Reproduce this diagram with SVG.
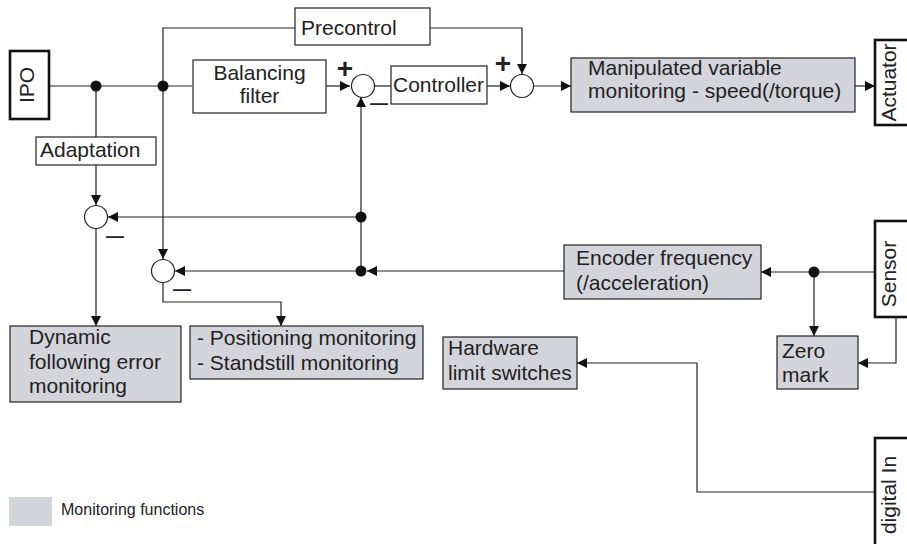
<svg xmlns="http://www.w3.org/2000/svg" width="907" height="544" viewBox="0 0 907 544">
<defs>
<style>
.box{fill:#fff;stroke:#222;stroke-width:1.2}
.mon{fill:#d4d5da;stroke:#222;stroke-width:1.2}
.io{fill:#fff;stroke:#111;stroke-width:2.6}
.sum{fill:#fff;stroke:#222;stroke-width:1.2}
.t{font-family:"Liberation Sans",Arial,sans-serif;font-size:21px;fill:#222}
.s{font-family:"Liberation Sans",Arial,sans-serif;font-size:28px;font-weight:bold;fill:#222}
.m{font-family:"Liberation Sans",Arial,sans-serif;font-size:18px;font-weight:bold;fill:#222}
.c{fill:none;stroke:#222;stroke-width:1.2}
.dot{fill:#111}
</style>
<marker id="ah" viewBox="0 0 10 10" refX="10" refY="5" markerWidth="10" markerHeight="10" markerUnits="userSpaceOnUse" orient="auto">
<path d="M0,0 L10,5 L0,10 z" fill="#111"/>
</marker>
</defs>
<rect width="907" height="544" fill="#fff"/>

<g id="connectors">
<path class="c" d="M49,86 H192"/>
<path class="c" d="M326,86 H350" marker-end="url(#ah)"/>
<path class="c" d="M375,86 H391"/>
<path class="c" d="M487,86 H510" marker-end="url(#ah)"/>
<path class="c" d="M534,86 H571" marker-end="url(#ah)"/>
<path class="c" d="M855,86 H875" marker-end="url(#ah)"/>
<path class="c" d="M163,86 V28 H295"/>
<path class="c" d="M163,86 V259" marker-end="url(#ah)"/>
<path class="c" d="M430,28 H522 V74" marker-end="url(#ah)"/>
<path class="c" d="M96,86 V137"/>
<path class="c" d="M96,165 V205" marker-end="url(#ah)"/>
<path class="c" d="M361,271 V97" marker-end="url(#ah)"/>
<path class="c" d="M361,217 H108" marker-end="url(#ah)"/>
<path class="c" d="M564,271 H367" marker-end="url(#ah)"/>
<path class="c" d="M361,271 H175" marker-end="url(#ah)"/>
<path class="c" d="M96,229 V326" marker-end="url(#ah)"/>
<path class="c" d="M163,283 V302 H281 V326" marker-end="url(#ah)"/>
<path class="c" d="M875,272 H761" marker-end="url(#ah)"/>
<path class="c" d="M814,272 V336" marker-end="url(#ah)"/>
<path class="c" d="M896,317 V363 H858" marker-end="url(#ah)"/>
<path class="c" d="M875,492 H697 V363 H577" marker-end="url(#ah)"/>
<circle class="dot" cx="96" cy="86" r="5.5"/>
<circle class="dot" cx="163" cy="86" r="5.5"/>
<circle class="dot" cx="361" cy="217" r="5.5"/>
<circle class="dot" cx="361" cy="271" r="5.5"/>
<circle class="dot" cx="814" cy="272" r="5.5"/>
</g>

<g id="sum1"><circle class="sum" cx="363" cy="86" r="11.5"/>
<text class="s" x="345" y="78" text-anchor="middle">+</text>
<text class="m" x="370" y="109">—</text></g>
<g id="sum2"><circle class="sum" cx="522" cy="86" r="11.5"/>
<text class="s" x="503" y="73" text-anchor="middle">+</text></g>
<g id="sumA"><circle class="sum" cx="96" cy="217" r="11.5"/>
<text class="m" x="106" y="242">—</text></g>
<g id="sumB"><circle class="sum" cx="163" cy="271" r="11.5"/>
<text class="m" x="173" y="295">—</text></g>

<g id="ipo"><rect class="io" x="10" y="51" width="39" height="68"/>
<text class="t" transform="translate(34,85) rotate(-90)" text-anchor="middle">IPO</text></g>
<g id="precontrol"><rect class="box" x="295" y="8" width="135" height="37"/>
<text class="t" x="301" y="35">Precontrol</text></g>
<g id="balancing"><rect class="box" x="193" y="60" width="133" height="53"/>
<text class="t" x="259.5" y="80" text-anchor="middle">Balancing</text>
<text class="t" x="259.5" y="103" text-anchor="middle">filter</text></g>
<g id="controller"><rect class="box" x="391" y="66" width="96" height="38"/>
<text class="t" x="393" y="92">Controller</text></g>
<g id="manipulated"><rect class="mon" x="571" y="58" width="284" height="54"/>
<text class="t" x="588" y="75">Manipulated variable</text>
<text class="t" x="588" y="98">monitoring - speed(/torque)</text></g>
<g id="actuator"><rect class="io" x="875" y="40" width="40" height="85"/>
<text class="t" transform="translate(896,82.5) rotate(-90)" text-anchor="middle">Actuator</text></g>
<g id="adaptation"><rect class="box" x="36" y="137" width="120" height="28"/>
<text class="t" x="40" y="157">Adaptation</text></g>
<g id="dynamic"><rect class="mon" x="10" y="326" width="171" height="76"/>
<text class="t" x="29" y="344">Dynamic</text>
<text class="t" x="29" y="369">following error</text>
<text class="t" x="29" y="393">monitoring</text></g>
<g id="positioning"><rect class="mon" x="190" y="326" width="233" height="53"/>
<text class="t" x="197" y="345">- Positioning monitoring</text>
<text class="t" x="197" y="370">- Standstill monitoring</text></g>
<g id="encoder"><rect class="mon" x="564" y="245" width="197" height="54"/>
<text class="t" x="576" y="265">Encoder frequency</text>
<text class="t" x="576" y="290">(/acceleration)</text></g>
<g id="sensor"><rect class="io" x="875" y="221" width="40" height="96"/>
<text class="t" transform="translate(896,274) rotate(-90)" text-anchor="middle">Sensor</text></g>
<g id="zeromark"><rect class="mon" x="777" y="336" width="81" height="53"/>
<text class="t" x="782" y="358">Zero</text>
<text class="t" x="782" y="382">mark</text></g>
<g id="hardware"><rect class="mon" x="443" y="337" width="134" height="52"/>
<text class="t" x="448" y="355">Hardware</text>
<text class="t" x="448" y="380">limit switches</text></g>
<g id="digitalin"><rect class="io" x="875" y="438" width="40" height="120"/>
<text class="t" transform="translate(896,495) rotate(-90)" text-anchor="middle">digital In</text></g>
<g id="legend"><rect x="9" y="497" width="43" height="29" fill="#d4d5da"/>
<text x="61" y="515" style="font-family:'Liberation Sans',Arial,sans-serif;font-size:16px;fill:#222">Monitoring functions</text></g>
</svg>
